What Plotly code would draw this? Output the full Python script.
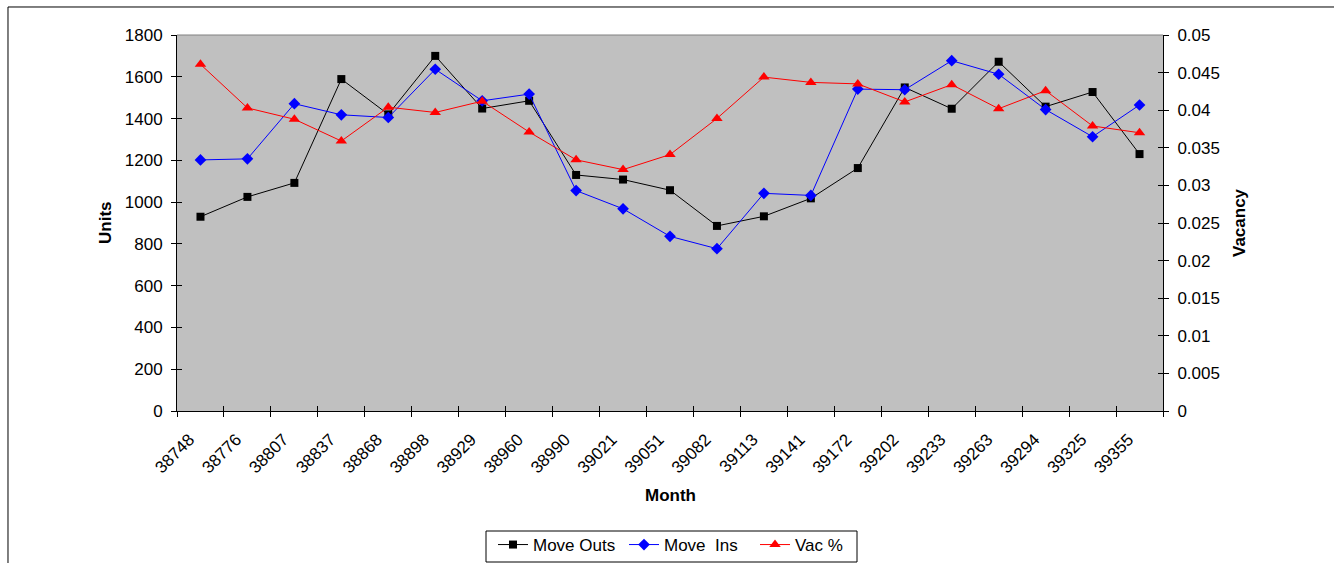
import plotly.graph_objects as go

months = ["38748", "38776", "38807", "38837", "38868", "38898", "38929", "38960",
          "38990", "39021", "39051", "39082", "39113", "39141", "39172", "39202",
          "39233", "39263", "39294", "39325", "39355"]
move_outs = [930, 1025, 1092, 1589, 1420, 1700, 1448, 1485, 1130, 1108, 1057, 886,
             932, 1018, 1163, 1549, 1447, 1672, 1457, 1527, 1230]
move_ins = [1202, 1207, 1471, 1418, 1405, 1636, 1485, 1517, 1055, 968, 836, 777,
            1042, 1032, 1541, 1538, 1677, 1612, 1443, 1313, 1465]
vac_pct = [0.0461, 0.0403, 0.0388, 0.0359, 0.0404, 0.0397, 0.0412, 0.0371,
           0.0334, 0.0321, 0.0341, 0.0389, 0.0444, 0.0437, 0.0435, 0.0411,
           0.0434, 0.0402, 0.0426, 0.0379, 0.0370]

FAM = "Arial, Liberation Sans, sans-serif"
font = dict(family=FAM, size=17, color="black")

fig = go.Figure()
fig.add_trace(go.Scatter(x=months, y=move_outs, name="Move Outs", mode="lines+markers",
                         line=dict(color="black", width=1),
                         marker=dict(symbol="square", size=8, color="black")))
fig.add_trace(go.Scatter(x=months, y=move_ins, name="Move\u00a0 Ins", mode="lines+markers",
                         line=dict(color="#0000FF", width=1),
                         marker=dict(symbol="diamond", size=9, color="#0000FF")))
fig.add_trace(go.Scatter(x=months, y=vac_pct, name="Vac %", mode="lines+markers", yaxis="y2",
                         line=dict(color="#FF0000", width=1),
                         marker=dict(symbol="triangle-up", size=10, color="#FF0000")))

# invisible helper traces so that inner tick marks (Excel "cross" ticks) get drawn
for xa, ya in (("x", "y3"), ("x", "y4"), ("x2", "y")):
    fig.add_trace(go.Scatter(x=months[:1], y=[0], xaxis=xa, yaxis=ya, mode="markers",
                             marker=dict(opacity=0), showlegend=False, hoverinfo="skip"))

common_y = dict(showgrid=False, zeroline=False, automargin=False, tickcolor="black")

fig.update_layout(
    width=1334, height=563,
    margin=dict(l=177, r=171, t=35, b=152),
    paper_bgcolor="white",
    plot_bgcolor="#C0C0C0",
    font=font,
    showlegend=True,
    legend=dict(orientation="h", x=493 / 1334, xref="container", xanchor="left",
                y=1 - 527 / 563, yref="container", yanchor="top",
                borderwidth=0, bgcolor="rgba(0,0,0,0)",
                entrywidth=86, entrywidthmode="pixels",
                font=dict(family=FAM, size=17)),
    xaxis=dict(type="category", range=[-0.5, 20.5], tickangle=-45, tickson="boundaries",
               ticks="outside", ticklen=5, tickcolor="black", automargin=False,
               ticklabelstandoff=11, ticklabelshift=-11,
               showline=True, linecolor="black", linewidth=1, showgrid=False,
               zeroline=False),
    xaxis2=dict(type="category", range=[-0.5, 20.5], overlaying="x", side="bottom",
                tickson="boundaries", ticks="inside", ticklen=5, tickcolor="black",
                showticklabels=False, showline=False, showgrid=False, zeroline=False,
                automargin=False, categoryorder="array", categoryarray=months),
    yaxis=dict(range=[0, 1800], dtick=200, ticks="outside", ticklen=5,
               ticklabelstandoff=5, showline=True, linecolor="black", **common_y),
    yaxis2=dict(range=[0, 0.05], dtick=0.005, overlaying="y", side="right",
                ticks="outside", ticklen=5, ticklabelstandoff=5,
                showline=True, linecolor="black", **common_y),
    yaxis3=dict(range=[0, 1800], dtick=200, overlaying="y", side="left",
                ticks="inside", ticklen=5, showticklabels=False, showline=False, **common_y),
    yaxis4=dict(range=[0, 0.05], dtick=0.005, overlaying="y", side="right",
                ticks="inside", ticklen=5, showticklabels=False, showline=False, **common_y),
)

# axis titles
title_font = dict(family=FAM, size=17, color="black")
fig.add_annotation(text="<b>Units</b>", xref="paper", yref="paper",
                   x=(105 - 177) / 986, y=0.5, textangle=-90, showarrow=False,
                   xanchor="center", yanchor="middle", font=title_font)
fig.add_annotation(text="<b>Vacancy</b>", xref="paper", yref="paper",
                   x=(1239 - 177) / 986, y=0.5, textangle=-90, showarrow=False,
                   xanchor="center", yanchor="middle", font=title_font)
fig.add_annotation(text="<b>Month</b>", xref="paper", yref="paper",
                   x=(670 - 177) / 986, y=(411 - 496) / 376, showarrow=False,
                   xanchor="center", yanchor="middle", font=title_font)

# plot-area top border, legend frame and outer chart frame
fig.add_shape(type="line", xref="paper", yref="paper", x0=0, x1=1, y0=1, y1=1,
              line=dict(color="#808080", width=1))
fig.add_shape(type="rect", xref="paper", yref="paper",
              x0=(486 - 177) / 986, x1=(857 - 177) / 986,
              y0=(411 - 562) / 376, y1=(411 - 531) / 376,
              line=dict(color="black", width=1), fillcolor="white", layer="below")
fig.add_shape(type="rect", xref="paper", yref="paper", x0=-0.1714, x1=1.5, y0=-0.6, y1=1.0745,
              line=dict(color="black", width=1), layer="below")

fig.write_html("out.html")
